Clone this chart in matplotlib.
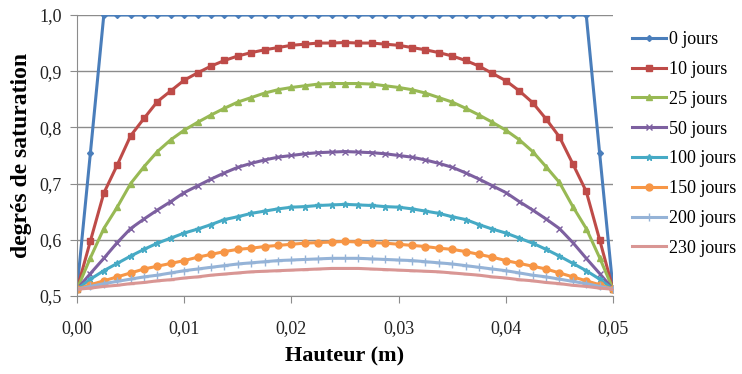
import matplotlib.pyplot as plt
from matplotlib.ticker import FuncFormatter, MultipleLocator

hauteur = [i * 0.00125 for i in range(41)]

s0 = [0.512, 0.755] + [1.0] * 37 + [0.754, 0.512]
s10 = [0.512, 0.598, 0.683, 0.733, 0.785, 0.816, 0.846, 0.865, 0.884, 0.897,
       0.909, 0.919, 0.927, 0.933, 0.938, 0.942, 0.946, 0.948, 0.950, 0.950,
       0.951, 0.950, 0.950, 0.948, 0.946, 0.942, 0.938, 0.933, 0.927, 0.919,
       0.909, 0.896, 0.883, 0.865, 0.844, 0.815, 0.783, 0.735, 0.686, 0.600,
       0.512]
s25 = [0.512, 0.568, 0.620, 0.658, 0.700, 0.730, 0.757, 0.778, 0.795, 0.809,
       0.822, 0.834, 0.845, 0.853, 0.861, 0.867, 0.871, 0.874, 0.877, 0.878,
       0.878, 0.878, 0.877, 0.874, 0.871, 0.867, 0.861, 0.853, 0.845, 0.834,
       0.822, 0.809, 0.795, 0.778, 0.757, 0.730, 0.702, 0.659, 0.620, 0.568,
       0.512]
s50 = [0.512, 0.540, 0.567, 0.595, 0.620, 0.637, 0.653, 0.668, 0.684, 0.696,
       0.708, 0.719, 0.729, 0.736, 0.742, 0.747, 0.750, 0.753, 0.755, 0.756,
       0.757, 0.756, 0.755, 0.753, 0.750, 0.747, 0.742, 0.736, 0.729, 0.719,
       0.708, 0.696, 0.684, 0.668, 0.653, 0.637, 0.620, 0.595, 0.567, 0.540,
       0.512]
s100 = [0.512, 0.530, 0.545, 0.558, 0.571, 0.583, 0.594, 0.603, 0.612, 0.619,
        0.627, 0.636, 0.641, 0.647, 0.651, 0.655, 0.658, 0.659, 0.661, 0.662,
        0.663, 0.662, 0.661, 0.659, 0.658, 0.655, 0.651, 0.647, 0.641, 0.636,
        0.627, 0.619, 0.612, 0.603, 0.594, 0.583, 0.571, 0.558, 0.545, 0.530,
        0.512]
s150 = [0.512, 0.520, 0.527, 0.534, 0.541, 0.548, 0.553, 0.558, 0.563, 0.569,
        0.574, 0.579, 0.583, 0.585, 0.588, 0.590, 0.592, 0.594, 0.595, 0.596,
        0.597, 0.596, 0.595, 0.594, 0.592, 0.590, 0.588, 0.585, 0.583, 0.579,
        0.574, 0.569, 0.563, 0.558, 0.553, 0.548, 0.541, 0.534, 0.527, 0.520,
        0.512]
s200 = [0.512, 0.517, 0.522, 0.526, 0.530, 0.534, 0.537, 0.541, 0.545, 0.548,
        0.551, 0.554, 0.557, 0.559, 0.561, 0.563, 0.564, 0.565, 0.566, 0.567,
        0.567, 0.567, 0.566, 0.565, 0.564, 0.563, 0.561, 0.559, 0.557, 0.554,
        0.551, 0.548, 0.545, 0.541, 0.537, 0.534, 0.530, 0.526, 0.522, 0.517,
        0.512]
s230 = [0.512, 0.514, 0.517, 0.519, 0.522, 0.524, 0.527, 0.529, 0.532, 0.534,
        0.537, 0.539, 0.541, 0.543, 0.544, 0.545, 0.546, 0.547, 0.548, 0.549,
        0.549, 0.549, 0.548, 0.547, 0.546, 0.545, 0.544, 0.543, 0.541, 0.539,
        0.537, 0.534, 0.532, 0.529, 0.527, 0.524, 0.522, 0.519, 0.517, 0.514,
        0.512]

labels = ['0 jours', '10 jours', '25 jours', '50 jours',
          '100 jours', '150 jours', '200 jours', '230 jours']
series = [s0, s10, s25, s50, s100, s150, s200, s230]
colors = ['#4A7EBB', '#BE4B48', '#98B954', '#7D60A0',
          '#46AAC5', '#F79646', '#95B3D7', '#D99694']
markers = ['D', 's', '^', 'x', '*', 'o', '+', '_']
msizes = [3, 5, 5, 5, 5, 5, 6, 4]

fig = plt.figure(figsize=(7.42, 3.74), dpi=100)
ax = fig.add_axes([0.1038, 0.2086, 0.7224, 0.7514])

for y, lab, c, m, ms in zip(series, labels, colors, markers, msizes):
    ax.plot(hauteur, y, color=c, marker=m, markersize=ms, linewidth=2.2,
            markeredgewidth=1, label=lab)

ax.set_xlim(0, 0.05)
ax.set_ylim(0.5, 1.0)
ax.xaxis.set_major_locator(MultipleLocator(0.01))
ax.yaxis.set_major_locator(MultipleLocator(0.1))
ax.xaxis.set_major_formatter(FuncFormatter(lambda v, p: f"{v:.2f}".replace('.', ',')))
ax.yaxis.set_major_formatter(FuncFormatter(lambda v, p: f"{v:.1f}".replace('.', ',')))
ax.grid(axis='y', color='#8c8c8c', linewidth=1)
ax.set_axisbelow(True)
for s in ['top', 'right']:
    ax.spines[s].set_visible(False)
for s in ['left', 'bottom']:
    ax.spines[s].set_color('#8c8c8c')
ax.tick_params(axis='both', colors='#8c8c8c', length=5, direction='out',
               labelcolor='#222222', labelsize=13, pad=6)
ax.tick_params(axis='x', pad=12)
for t in ax.get_xticklabels() + ax.get_yticklabels():
    t.set_family('Liberation Serif')

ax.set_xlabel('Hauteur (m)', fontsize=16, fontweight='bold',
              family='Liberation Serif', labelpad=7)
ax.set_ylabel('degrés de saturation', fontsize=17, fontweight='bold',
              family='Liberation Serif', labelpad=5)

fig.legend(loc='upper left', bbox_to_anchor=(0.852, 0.917), frameon=False,
           prop={'family': 'Liberation Serif', 'size': 13}, handlelength=1.9,
           handletextpad=0.15, labelspacing=0.71, borderpad=0, borderaxespad=0)

fig.savefig('out.png')
